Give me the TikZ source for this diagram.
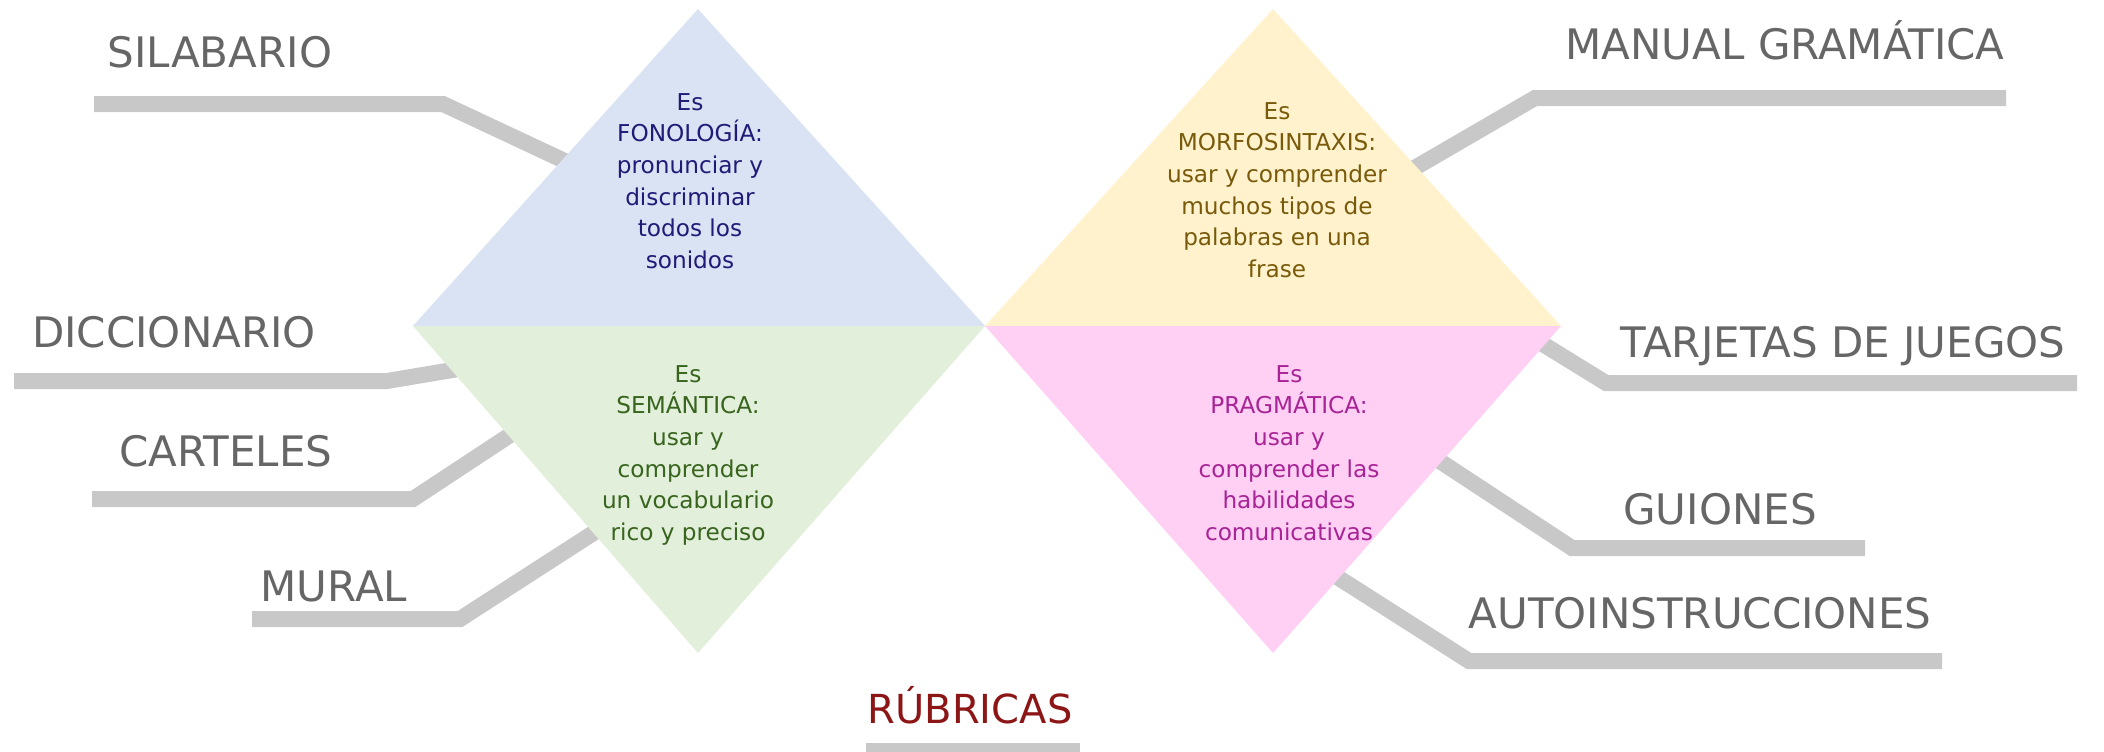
\documentclass[tikz,border=0pt]{standalone}
\usepackage{fontspec}
\setmainfont{DejaVu Sans}
\usepackage{tikz}
\usetikzlibrary{calc}
\usepackage{xcolor}
\definecolor{mybluefill}{RGB}{218,227,243}
\definecolor{mygreenfill}{RGB}{226,239,218}
\definecolor{myyellowfill}{RGB}{255,242,204}
\definecolor{mypinkfill}{RGB}{255,207,244}
\definecolor{myblue}{RGB}{32,26,120}
\definecolor{mygreen}{RGB}{56,100,30}
\definecolor{mybrown}{RGB}{120,90,10}
\definecolor{mypink}{RGB}{168,36,150}
\definecolor{mygray}{RGB}{102,102,102}
\definecolor{mybar}{RGB}{200,200,200}
\definecolor{myred}{RGB}{140,22,22}

\begin{document}
\begin{tikzpicture}[x=0.5pt,y=-0.5pt,line join=miter]
  \tikzstyle{every node}=[inner sep=0pt]
  \tikzstyle{resource}=[anchor=base,text=mygray,font=\fontsize{21}{25}\selectfont]
  \tikzstyle{area}=[anchor=north,align=center,font=\fontsize{11.6}{15.8}\selectfont]
  \tikzstyle{bar}=[draw=mybar,line width=8pt,shorten >=-5pt]

  \useasboundingbox (0,0) rectangle (2104,751);

  % corners of the four triangles
  \coordinate (w)   at (413,326);
  \coordinate (m)   at (985,326);
  \coordinate (e)   at (1561,326);
  \coordinate (fon) at (698,9);
  \coordinate (sem) at (698,653);
  \coordinate (mor) at (1273,9);
  \coordinate (pra) at (1273,653);

  % bars: free end, bend, edge of the triangle
  \coordinate (sil0) at (94,104);   \coordinate (sil1) at (443,104);  \coordinate (sil2) at ($(fon)!.476!(w)$);
  \coordinate (dic0) at (14,381);   \coordinate (dic1) at (387,381);  \coordinate (dic2) at ($(w)!.135!(sem)$);
  \coordinate (car0) at (92,499);   \coordinate (car1) at (413,499);  \coordinate (car2) at ($(w)!.336!(sem)$);
  \coordinate (mur0) at (252,619);  \coordinate (mur1) at (460,619);  \coordinate (mur2) at ($(w)!.633!(sem)$);
  \coordinate (man0) at (2006,98);  \coordinate (man1) at (1535,98);  \coordinate (man2) at ($(mor)!.498!(e)$);
  \coordinate (tar0) at (2077,383); \coordinate (tar1) at (1606,383); \coordinate (tar2) at ($(e)!.058!(pra)$);
  \coordinate (gui0) at (1865,548); \coordinate (gui1) at (1572,548); \coordinate (gui2) at ($(e)!.416!(pra)$);
  \coordinate (aut0) at (1942,661); \coordinate (aut1) at (1469,661); \coordinate (aut2) at ($(e)!.771!(pra)$);
  \coordinate (rub0) at (866,751);  \coordinate (rub1) at (1080,751);

  \draw[bar] (sil0) -- (sil1) -- (sil2);
  \draw[bar] (dic0) -- (dic1) -- (dic2);
  \draw[bar] (car0) -- (car1) -- (car2);
  \draw[bar] (mur0) -- (mur1) -- (mur2);
  \draw[bar] (man0) -- (man1) -- (man2);
  \draw[bar] (tar0) -- (tar1) -- (tar2);
  \draw[bar] (gui0) -- (gui1) -- (gui2);
  \draw[bar] (aut0) -- (aut1) -- (aut2);
  \draw[bar,shorten >=0pt] (rub0) -- (rub1);

  \fill[mybluefill]   (w) -- (fon) -- (m) -- cycle;
  \fill[mygreenfill]  (w) -- (sem) -- (m) -- cycle;
  \fill[myyellowfill] (m) -- (mor) -- (e) -- cycle;
  \fill[mypinkfill]   (m) -- (pra) -- (e) -- cycle;

  \node[area,text=myblue]   (fonologia)     at (690,93)   {Es\\FONOLOGÍA:\\pronunciar y\\discriminar\\todos los\\sonidos};
  \node[area,text=mybrown]  (morfosintaxis) at (1277,102) {Es\\MORFOSINTAXIS:\\usar y comprender\\muchos tipos de\\palabras en una\\frase};
  \node[area,text=mygreen]  (semantica)     at (688,365)  {Es\\SEMÁNTICA:\\usar y\\comprender\\un vocabulario\\rico y preciso};
  \node[area,text=mypink]   (pragmatica)    at (1289,365) {Es\\PRAGMÁTICA:\\usar y\\comprender las\\habilidades\\comunicativas};

  \node[resource] (silabario)   at (220,67)   {SILABARIO};
  \node[resource] (diccionario) at (174,347)  {DICCIONARIO};
  \node[resource] (carteles)    at (226,466)  {CARTELES};
  \node[resource] (mural)       at (334,601)  {MURAL};
  \node[resource] (manual)      at (1785,59)  {MANUAL GRAMÁTICA};
  \node[resource] (tarjetas)    at (1843,357) {TARJETAS DE JUEGOS};
  \node[resource] (guiones)     at (1720,524) {GUIONES};
  \node[resource] (autoinstr)   at (1700,628) {AUTOINSTRUCCIONES};
  \node[resource,text=myred,font=\fontsize{20}{24}\selectfont] (rubricas) at (970,723) {RÚBRICAS};
\end{tikzpicture}
\end{document}
